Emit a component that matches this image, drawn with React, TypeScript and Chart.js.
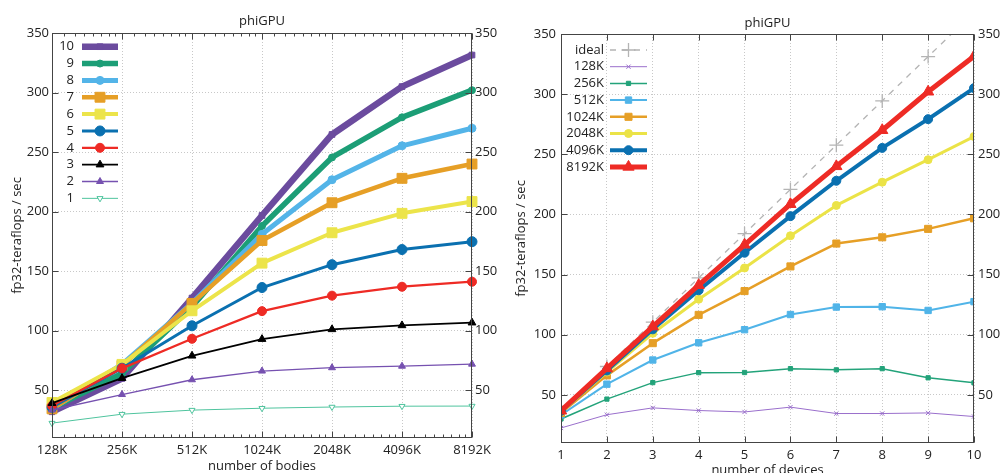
import React, { useEffect, useRef } from 'react';
import { Chart, registerables } from 'chart.js';
import { drawPoint } from 'chart.js/helpers';

Chart.register(...registerables);

// ---------------- data ----------------
const bodyLabels = ['128K', '256K', '512K', '1024K', '2048K', '4096K', '8192K'];
const deviceCounts = [1, 2, 3, 4, 5, 6, 7, 8, 9, 10];
const yTickValues = [50, 100, 150, 200, 250, 300, 350];

// fp32 teraflops/sec for 1..10 devices, one array per problem size
const perf128K = [22.5, 33.5, 39.2, 37.0, 35.8, 39.8, 34.5, 34.5, 35.0, 32.0];
const perf256K = [30.0, 46.5, 60.2, 68.5, 68.6, 71.8, 70.8, 71.8, 64.2, 60.0];
const perf512K = [33.4, 58.9, 79.0, 93.3, 104.2, 116.8, 123.0, 123.3, 120.2, 127.5];
const perf1024K = [35.0, 66.2, 93.0, 116.5, 136.3, 156.8, 175.8, 181.0, 188.0, 196.8];
const perf2048K = [36.0, 69.0, 101.2, 129.5, 155.5, 182.3, 207.5, 226.8, 245.5, 264.8];
const perf4096K = [36.7, 70.3, 104.5, 137.0, 168.2, 198.6, 228.0, 255.3, 279.2, 305.0];
const perf8192K = [36.8, 72.0, 106.8, 141.2, 174.8, 208.5, 240.0, 270.0, 302.0, 331.5];
const idealPerf = [36.8, 73.6, 110.4, 147.2, 184.0, 220.8, 257.6, 294.4, 331.2, 368.0];

const perfByBodies = [perf128K, perf256K, perf512K, perf1024K, perf2048K, perf4096K, perf8192K];

// ---------------- styles ----------------
type SeriesStyle = {
  color: string;
  width: number;
  pointStyle: string;
  radius: number;
  rotation?: number;
  hollow?: boolean;
  dash?: number[];
};

// index 0 -> 1 device ... index 9 -> 10 devices
const deviceStyles: SeriesStyle[] = [
  { color: '#4fc49e', width: 1, pointStyle: 'triangle', radius: 3.5, rotation: 180, hollow: true },
  { color: '#7651b0', width: 1.3, pointStyle: 'triangle', radius: 4 },
  { color: '#000000', width: 1.8, pointStyle: 'triangle', radius: 4.5 },
  { color: '#ee2b25', width: 2.3, pointStyle: 'circle', radius: 4.5 },
  { color: '#0a70b0', width: 3, pointStyle: 'circle', radius: 5 },
  { color: '#ece44a', width: 4, pointStyle: 'rect', radius: 7 },
  { color: '#e69f26', width: 4.5, pointStyle: 'rect', radius: 7 },
  { color: '#53b4e8', width: 5, pointStyle: 'circle', radius: 4 },
  { color: '#1c9e76', width: 5.5, pointStyle: 'circle', radius: 3.5 },
  { color: '#6b4b9e', width: 6.5, pointStyle: 'rect', radius: 4 },
];

const bodyStyles: SeriesStyle[] = [
  { color: '#9a6fcc', width: 1, pointStyle: 'crossRot', radius: 3 },
  { color: '#23a37a', width: 1.5, pointStyle: 'rect', radius: 3 },
  { color: '#50b4e8', width: 2, pointStyle: 'rect', radius: 4.5 },
  { color: '#e69f26', width: 2.5, pointStyle: 'rect', radius: 5 },
  { color: '#ebe347', width: 3, pointStyle: 'circle', radius: 4 },
  { color: '#0a70b0', width: 4, pointStyle: 'circle', radius: 4.5 },
  { color: '#ee2b25', width: 5, pointStyle: 'triangle', radius: 6.5 },
];
const idealStyle: SeriesStyle = { color: '#b4b4b4', width: 1.3, pointStyle: 'cross', radius: 7, dash: [6, 6] };

const FONT = '"Open Sans", "Noto Sans", sans-serif';
const TEXT = '#222222';
const GRID = '#c8c8c8';
const FRAME = '#444444';

Chart.defaults.font.family = FONT;
Chart.defaults.font.size = 13;
Chart.defaults.color = TEXT;

function styleProps(s: SeriesStyle) {
  return {
    borderColor: s.color,
    backgroundColor: s.color,
    borderWidth: s.width,
    borderDash: s.dash || [],
    pointStyle: s.pointStyle,
    pointRadius: s.radius,
    pointHoverRadius: s.radius,
    pointRotation: s.rotation || 0,
    pointBackgroundColor: s.hollow ? '#ffffff' : s.color,
    pointBorderColor: s.color,
    pointBorderWidth: 1,
    tension: 0,
    borderJoinStyle: 'round' as const,
    fill: false,
  };
}

// ---------------- plugins ----------------
function framePlugin(minorFractions: number[]) {
  return {
    id: 'frameTicks',
    afterDatasetsDraw(chart: any) {
      const { ctx, chartArea: a, scales } = chart;
      const L = Math.round(a.left) + 0.5;
      const R = Math.round(a.right) - 0.5;
      const T = Math.round(a.top) + 0.5;
      const B = Math.round(a.bottom) - 0.5;
      ctx.save();
      ctx.strokeStyle = FRAME;
      ctx.lineWidth = 1;
      ctx.setLineDash([]);
      ctx.strokeRect(L, T, R - L, B - T);
      ctx.beginPath();
      const xs = scales.x;
      const xp: number[] = xs.ticks.map((_: any, i: number) => xs.getPixelForTick(i));
      xp.forEach((p) => {
        const px = Math.round(p) + 0.5;
        ctx.moveTo(px, B);
        ctx.lineTo(px, B - 6);
        ctx.moveTo(px, T);
        ctx.lineTo(px, T + 6);
      });
      for (let i = 0; i < xp.length - 1; i++) {
        minorFractions.forEach((f) => {
          const px = Math.round(xp[i] + f * (xp[i + 1] - xp[i])) + 0.5;
          ctx.moveTo(px, B);
          ctx.lineTo(px, B - 3);
          ctx.moveTo(px, T);
          ctx.lineTo(px, T + 3);
        });
      }
      const ys = scales.y;
      ys.ticks.forEach((t: any) => {
        const py = Math.round(ys.getPixelForValue(t.value)) + 0.5;
        ctx.moveTo(L, py);
        ctx.lineTo(L + 6, py);
        ctx.moveTo(R, py);
        ctx.lineTo(R - 6, py);
      });
      ctx.stroke();
      ctx.restore();
    },
  };
}

type LegendCfg = { order: number[]; textRight: number; x1: number; x2: number; y0: number; dy: number };

function legendPlugin(cfg: LegendCfg) {
  return {
    id: 'insideLegend',
    afterDatasetsDraw(chart: any) {
      const ctx = chart.ctx;
      ctx.save();
      ctx.font = `13px ${FONT}`;
      ctx.textAlign = 'right';
      ctx.textBaseline = 'middle';
      cfg.order.forEach((di, k) => {
        const ds = chart.data.datasets[di];
        const y = cfg.y0 + k * cfg.dy;
        ctx.fillStyle = TEXT;
        ctx.fillText(ds.label, cfg.textRight, y);
        ctx.strokeStyle = ds.borderColor;
        ctx.lineWidth = ds.borderWidth;
        ctx.setLineDash(ds.borderDash || []);
        ctx.beginPath();
        ctx.moveTo(cfg.x1, y);
        ctx.lineTo(cfg.x2, y);
        ctx.stroke();
        ctx.setLineDash([]);
        ctx.fillStyle = ds.pointBackgroundColor;
        ctx.strokeStyle = ds.pointBorderColor;
        ctx.lineWidth = ds.pointBorderWidth;
        drawPoint(
          ctx,
          {
            pointStyle: ds.pointStyle,
            rotation: ds.pointRotation || 0,
            radius: ds.pointRadius,
            borderWidth: ds.pointBorderWidth,
          } as any,
          (cfg.x1 + cfg.x2) / 2,
          y
        );
      });
      ctx.restore();
    },
  };
}

function setYTicks(s: any) {
  s.ticks = yTickValues.map((v) => ({ value: v }));
}

// ---------------- configs ----------------
function leftConfig(): any {
  const datasets = deviceCounts.map((d, i) => ({
    label: String(d),
    data: perfByBodies.map((arr) => arr[i]),
    order: i,
    ...styleProps(deviceStyles[i]),
  }));
  const minorFractions = [1.125, 1.25, 1.375, 1.5, 1.625, 1.75, 1.875].map((m) => Math.log2(m));
  return {
    type: 'line',
    data: { labels: bodyLabels, datasets },
    options: {
      responsive: false,
      animation: false,
      events: [],
      layout: { padding: 0 },
      plugins: {
        legend: { display: false },
        tooltip: { enabled: false },
        title: {
          display: true,
          text: 'phiGPU',
          fullSize: false,
          color: TEXT,
          font: { size: 13, weight: 'normal', family: FONT },
          padding: { top: 13, bottom: 4.4 },
        },
      },
      scales: {
        x: {
          type: 'category',
          offset: false,
          grid: { color: GRID, lineWidth: 1, drawTicks: false },
          border: { display: false, dash: [1, 2] },
          ticks: { color: TEXT, padding: 4, maxRotation: 0, autoSkip: false, font: { size: 13 } },
          title: {
            display: true,
            text: 'number of bodies',
            color: TEXT,
            font: { size: 13, lineHeight: 1 },
            padding: { top: 0, bottom: 0 },
          },
          afterFit: (s: any) => {
            s.height = 35;
          },
        },
        y: {
          type: 'linear',
          position: 'left',
          min: 10,
          max: 350,
          afterBuildTicks: setYTicks,
          grid: { color: GRID, lineWidth: 1, drawTicks: false },
          border: { display: false, dash: [1, 2] },
          ticks: { color: TEXT, padding: 3, font: { size: 13 } },
          title: {
            display: true,
            text: 'fp32-teraflops / sec',
            color: TEXT,
            font: { size: 13, lineHeight: 1 },
            padding: { top: 10.5, bottom: 0 },
          },
          afterFit: (s: any) => {
            s.width = 52;
          },
        },
        y2: {
          type: 'linear',
          position: 'right',
          min: 10,
          max: 350,
          afterBuildTicks: setYTicks,
          grid: { display: false, drawTicks: false },
          border: { display: false },
          ticks: { color: TEXT, padding: 3, font: { size: 13 } },
          afterFit: (s: any) => {
            s.width = 28;
          },
        },
      },
    },
    plugins: [
      framePlugin(minorFractions),
      legendPlugin({
        order: [9, 8, 7, 6, 5, 4, 3, 2, 1, 0],
        textRight: 74,
        x1: 82,
        x2: 118,
        y0: 46.7,
        dy: 16.85,
      }),
    ],
  };
}

function rightConfig(): any {
  const bodyDatasets = bodyLabels.map((lab, j) => ({
    label: lab,
    data: perfByBodies[j].map((v, i) => ({ x: deviceCounts[i], y: v })),
    order: bodyLabels.length - 1 - j,
    ...styleProps(bodyStyles[j]),
  }));
  const idealDataset = {
    label: 'ideal',
    data: idealPerf.map((v, i) => ({ x: deviceCounts[i], y: v })),
    order: 50,
    ...styleProps(idealStyle),
    pointBorderWidth: 1.3,
  };
  const datasets = [idealDataset, ...bodyDatasets];
  return {
    type: 'line',
    data: { datasets },
    options: {
      responsive: false,
      animation: false,
      events: [],
      layout: { padding: 0 },
      plugins: {
        legend: { display: false },
        tooltip: { enabled: false },
        title: {
          display: true,
          text: 'phiGPU',
          fullSize: false,
          color: TEXT,
          font: { size: 13, weight: 'normal', family: FONT },
          padding: { top: 15.5, bottom: 2.9 },
        },
      },
      scales: {
        x: {
          type: 'linear',
          min: 1,
          max: 10,
          afterBuildTicks: (s: any) => {
            s.ticks = deviceCounts.map((v) => ({ value: v }));
          },
          grid: { color: GRID, lineWidth: 1, drawTicks: false },
          border: { display: false, dash: [1, 2] },
          ticks: { color: TEXT, padding: 4, maxRotation: 0, autoSkip: false, font: { size: 13 } },
          title: {
            display: true,
            text: 'number of devices',
            color: TEXT,
            font: { size: 13, lineHeight: 1 },
            padding: { top: 0, bottom: -4 },
          },
          afterFit: (s: any) => {
            s.height = 30;
          },
        },
        y: {
          type: 'linear',
          position: 'left',
          min: 10,
          max: 350,
          afterBuildTicks: setYTicks,
          grid: { color: GRID, lineWidth: 1, drawTicks: false },
          border: { display: false, dash: [1, 2] },
          ticks: { color: TEXT, padding: 5, font: { size: 13 } },
          title: {
            display: true,
            text: 'fp32-teraflops / sec',
            color: TEXT,
            font: { size: 13, lineHeight: 1 },
            padding: { top: 15.2, bottom: 0 },
          },
          afterFit: (s: any) => {
            s.width = 61;
          },
        },
        y2: {
          type: 'linear',
          position: 'right',
          min: 10,
          max: 350,
          afterBuildTicks: setYTicks,
          grid: { display: false, drawTicks: false },
          border: { display: false },
          ticks: { color: TEXT, padding: 4, font: { size: 13 } },
          afterFit: (s: any) => {
            s.width = 29;
          },
        },
      },
    },
    plugins: [
      framePlugin([]),
      legendPlugin({
        order: [0, 1, 2, 3, 4, 5, 6, 7],
        textRight: 104,
        x1: 110,
        x2: 147,
        y0: 50,
        dy: 16.7,
      }),
    ],
  };
}

export default function App() {
  const leftRef = useRef<HTMLCanvasElement>(null);
  const rightRef = useRef<HTMLCanvasElement>(null);

  useEffect(() => {
    const c1 = new Chart(leftRef.current as HTMLCanvasElement, leftConfig());
    const c2 = new Chart(rightRef.current as HTMLCanvasElement, rightConfig());
    return () => {
      c1.destroy();
      c2.destroy();
    };
  }, []);

  return (
    <div
      style={{
        position: 'fixed',
        left: 0,
        top: 0,
        width: 1003,
        height: 473,
        background: '#ffffff',
        overflow: 'hidden',
      }}
    >
      <canvas
        ref={leftRef}
        width={500}
        height={473}
        style={{ position: 'absolute', left: 0, top: 0, width: 500, height: 473 }}
      />
      <canvas
        ref={rightRef}
        width={503}
        height={473}
        style={{ position: 'absolute', left: 500, top: 0, width: 503, height: 473 }}
      />
    </div>
  );
}
